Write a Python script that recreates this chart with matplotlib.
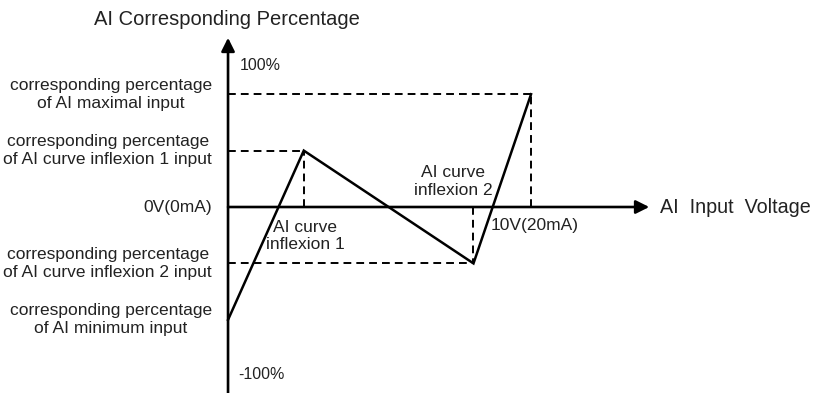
import matplotlib
matplotlib.use("Agg")
import matplotlib.pyplot as plt

plt.rcParams['font.family'] = ['Liberation Sans', 'DejaVu Sans']

# AI input (V) vs corresponding percentage (%)
ai_input = [0, 2.5, 8.1, 10]
ai_percent = [-80, 40, -40, 80]

level_labels = [
    "corresponding percentage\nof AI minimum input",
    "corresponding percentage\nof AI curve inflexion 1 input",
    "corresponding percentage\nof AI curve inflexion 2 input",
    "corresponding percentage\nof AI maximal input",
]
level_values = [-80, 40, -40, 80]

TXT = '#222222'

fig = plt.figure(figsize=(8.15, 3.93), dpi=100)
ax = fig.add_axes([0, 0, 1, 1])
ax.set_xlim(-7.525, 19.37)
ax.set_ylim(-131.9, 146.8)
ax.axis('off')

# axes with arrow heads
ax.annotate('', xy=(0, 120), xytext=(0, -131.9),
            arrowprops=dict(arrowstyle='-|>', lw=1.9, color='k', mutation_scale=20,
                            shrinkA=0, shrinkB=0))
ax.annotate('', xy=(13.9, 0), xytext=(0, 0),
            arrowprops=dict(arrowstyle='-|>', lw=1.9, color='k', mutation_scale=20,
                            shrinkA=0, shrinkB=0))

# guide lines from each point back to the axes
dash = (0, (4, 2.6))
for x, y in zip(ai_input[1:], ai_percent[1:]):
    ax.plot([0, x], [y, y], color='k', lw=1.4, linestyle=dash)
    ax.plot([x, x], [0, y], color='k', lw=1.4, linestyle=dash)

ax.plot(ai_input, ai_percent, color='k', lw=1.8, solid_joinstyle='miter')

# left side labels
for lab, v in zip(level_labels, level_values):
    ax.text(-0.53, v, lab, ha='right', va='center', multialignment='center',
            fontsize=12.5, color=TXT, linespacing=1.22)
ax.text(-0.53, 0, "0V(0mA)", ha='right', va='center', fontsize=12.5, color=TXT)

ax.text(-4.42, 133, "AI Corresponding Percentage", ha='left', va='center',
        fontsize=14.5, color=TXT)
ax.text(14.26, 0, "AI  Input  Voltage", ha='left', va='center', fontsize=14.2, color=TXT)
ax.text(0.4, 100, "100%", ha='left', va='center', fontsize=11.5, color=TXT)
ax.text(0.33, -119, "-100%", ha='left', va='center', fontsize=11.5, color=TXT)

ax.text(2.54, -20.6, "AI curve\ninflexion 1", ha='center', va='center',
        fontsize=12.5, color=TXT, linespacing=1.22)
ax.text(7.43, 18, "AI curve\ninflexion 2", ha='center', va='center',
        fontsize=12.5, color=TXT, linespacing=1.22)
ax.text(8.65, -12.8, "10V(20mA)", ha='left', va='center', fontsize=12.5, color=TXT)

fig.savefig('out.png', dpi=100)
